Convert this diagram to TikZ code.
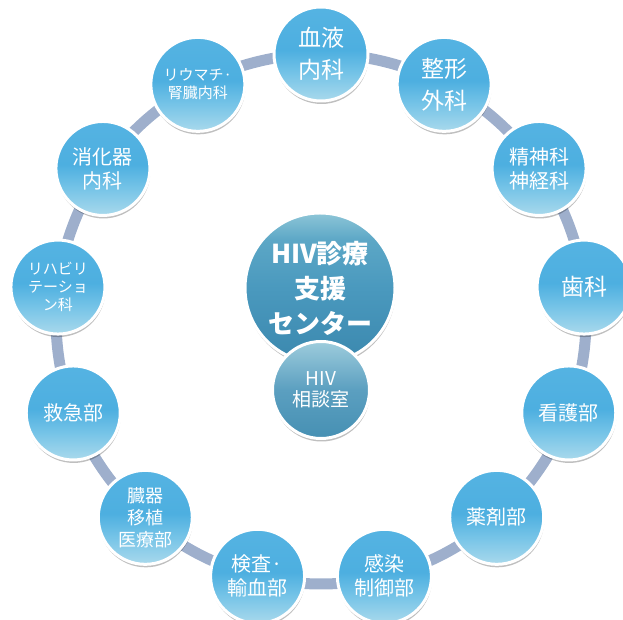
\documentclass[tikz,border=0pt]{standalone}
\usepackage{fontspec}
\newfontfamily\jp{Noto Sans CJK JP}
\usetikzlibrary{shadows,calc}
\definecolor{ringc}{HTML}{9EAFCC}
\definecolor{rb}{HTML}{A9D9EC}
\definecolor{rm}{HTML}{74C3E7}
\definecolor{rt}{HTML}{4DAFE0}
\definecolor{rt2}{HTML}{55B3E2}
\definecolor{hb}{HTML}{3B88AE}
\definecolor{hm}{HTML}{4A99BE}
\definecolor{hm2}{HTML}{5CA7C6}
\definecolor{ht}{HTML}{8DC5D7}
\definecolor{sb}{HTML}{4690B3}
\definecolor{sm}{HTML}{5B9FC0}
\definecolor{st}{HTML}{9DCCDC}
\pgfdeclareverticalshading{ringshade}{100bp}{color(0bp)=(rb); color(25bp)=(rb); color(40bp)=(rm); color(52bp)=(rt); color(75bp)=(rt2); color(100bp)=(rt2)}
\pgfdeclareverticalshading{hubshade}{100bp}{color(0bp)=(hb); color(25bp)=(hb); color(50bp)=(hm); color(66bp)=(hm2); color(75bp)=(ht); color(100bp)=(ht)}
\pgfdeclareverticalshading{smallshade}{100bp}{color(0bp)=(sb); color(25bp)=(sb); color(50bp)=(sm); color(75bp)=(st); color(100bp)=(st)}
\pgfdeclarelayer{bg}
\pgfsetlayers{bg,main}
\tikzset{
  ballbase/.style={circle, inner sep=0pt, draw=white, line width=3pt, text=white, align=center,
    drop shadow={shadow xshift=0.5pt, shadow yshift=-3pt, opacity=0.25, fill=black}},
  ringnode/.style={ballbase, minimum size=94pt, shading=ringshade},
  hubnode/.style={ballbase, minimum size=150pt, shading=hubshade},
  smallnode/.style={ballbase, minimum size=97pt, shading=smallshade},
  ringline/.style={draw=ringc, line width=11pt},
  fxl/.style={font=\jp\fontsize{23}{32}\selectfont},
  fl/.style={font=\jp\fontsize{20}{24}\selectfont},
  fm/.style={font=\jp\fontsize{18}{22}\selectfont},
  fs/.style={font=\jp\fontsize{15}{18}\selectfont},
}
\begin{document}
\begin{tikzpicture}[x=1pt,y=1pt]
\path[use as bounding box] (0,0) rectangle (623,620);
\coordinate (C) at (321,301);
\def\R{265}
\def\st{27.6923}
\node[ringnode,fxl] (n0) at ($(C)+(90:\R)$) {血液\\内科};
\node[ringnode,fxl] (n1) at ($(C)+(90-\st:\R)$) {整形\\外科};
\node[ringnode,fl] (n2) at ($(C)+(90-2*\st:\R)$) {精神科\\神経科};
\node[ringnode,fxl] (n3) at ($(C)+(90-3*\st:\R)$) {歯科};
\node[ringnode,fl] (n4) at ($(C)+(90-4*\st:\R)$) {看護部};
\node[ringnode,fl] (n5) at ($(C)+(90-5*\st:\R)$) {薬剤部};
\node[ringnode,fl] (n6) at ($(C)+(90-6*\st:\R)$) {感染\\制御部};
\node[ringnode,fl] (n7) at ($(C)+(90-7*\st:\R)$) {検査·\\輸血部};
\node[ringnode,fm] (n8) at ($(C)+(90-8*\st:\R)$) {臓器\\移植\\医療部};
\node[ringnode,fl] (n9) at ($(C)+(90-9*\st:\R)$) {救急部};
\node[ringnode,fs] (n10) at ($(C)+(90-10*\st:\R)$) {リハビリ\\テーショ\\ン科};
\node[ringnode,fl] (n11) at ($(C)+(90-11*\st:\R)$) {消化器\\内科};
\node[ringnode,fs] (n12) at ($(C)+(90-12*\st:\R)$) {リウマチ·\\腎臓内科};
\begin{pgfonlayer}{bg}
\draw[ringline] (C) circle[radius=\R];
\end{pgfonlayer}
\node[hubnode,font=\jp\bfseries\fontsize{26}{35}\selectfont] (hub) at (320,332) {HIV診療\\支援\\センター};
\node[smallnode,font=\jp\fontsize{19}{21}\selectfont] (soudan) at (321,230) {HIV\\相談室};
\end{tikzpicture}
\end{document}
